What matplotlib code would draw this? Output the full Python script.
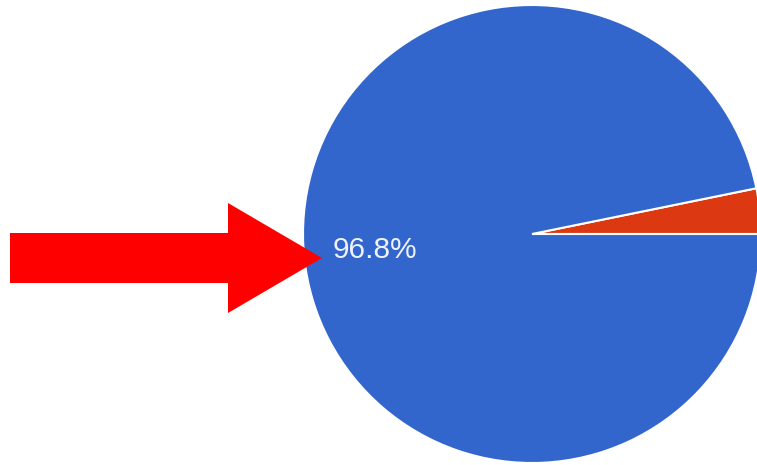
from matplotlib import pyplot as plt
from matplotlib.patches import FancyArrow

# slice shares (percent): red first, then blue
labels = ["Other", "Main"]
shares = [3.2, 96.8]
colors = ["#dc3912", "#3366cc"]


def pct_label(p):
    # only the big slice gets a label, like the original chart
    return f"{p:.1f}%" if p > 10 else ""


fig = plt.figure(figsize=(7.57, 4.65), dpi=100)
ax = fig.add_axes([0, 0, 1, 1])
ax.set_xlim(0, 757)
ax.set_ylim(0, 465)
ax.axis("off")

wedges, texts, autotexts = ax.pie(
    shares,
    colors=colors,
    startangle=0,
    counterclock=True,
    center=(532, 231),
    radius=229,
    autopct=pct_label,
    pctdistance=0.69,
    wedgeprops=dict(edgecolor="white", linewidth=1.5),
    textprops=dict(color="#eef2fa", fontsize=21.5, family="Liberation Sans"),
)
ax.set_xlim(0, 757)
ax.set_ylim(0, 465)
ax.set_aspect("equal")

# big red arrow pointing at the label
arrow = FancyArrow(10, 207, 312, 0, width=50, head_width=110, head_length=94,
                   length_includes_head=True, color="#ff0000", linewidth=0)
ax.add_patch(arrow)

plt.savefig("out.png", dpi=100)
